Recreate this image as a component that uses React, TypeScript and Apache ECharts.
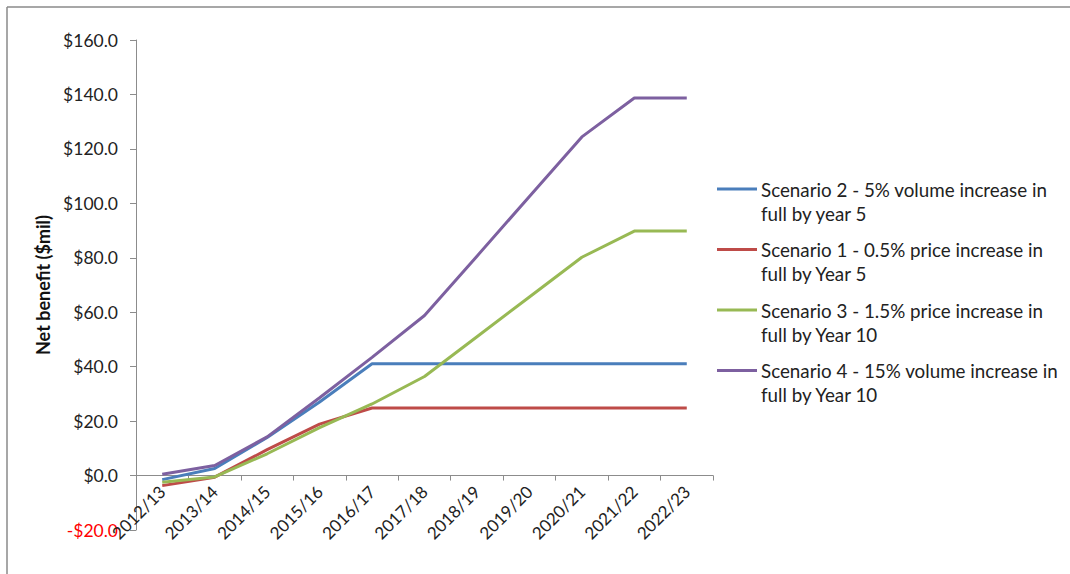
import React, { useEffect, useRef } from "react";
import * as echarts from "echarts";

// Financial years on the category axis
const years = [
  "2012/13", "2013/14", "2014/15", "2015/16", "2016/17", "2017/18",
  "2018/19", "2019/20", "2020/21", "2021/22", "2022/23",
];

// Net benefit per scenario, $ million
const scenario2 = [-1.5, 2.6, 14.0, 27.0, 41.1, 41.1, 41.1, 41.1, 41.1, 41.1, 41.1];
const scenario1 = [-3.7, -0.6, 9.5, 18.9, 24.8, 24.8, 24.8, 24.8, 24.8, 24.8, 24.8];
const scenario3 = [-2.5, -0.5, 8.0, 17.6, 26.3, 36.4, 51.0, 65.6, 80.2, 89.8, 89.8];
const scenario4 = [0.5, 3.7, 14.2, 28.6, 43.4, 58.8, 80.6, 102.5, 124.4, 138.7, 138.7];

// Legend captions, wrapped onto two lines
const names2 = ["Scenario 2 - 5% volume increase in", "full by year 5"];
const names1 = ["Scenario 1 - 0.5% price increase in", "full by Year 5"];
const names3 = ["Scenario 3 - 1.5% price increase in", "full by Year 10"];
const names4 = ["Scenario 4 - 15% volume increase in", "full by Year 10"];

// Y-axis range
const yMin = -20;
const yMax = 160;
const yStep = 20;

const FONT = "Lato, 'Noto Sans', sans-serif";

const GRID_TOP = 40;
const GRID_HEIGHT = 490;

export default function App() {
  const ref = useRef<HTMLDivElement>(null);

  useEffect(() => {
    if (!ref.current) return;
    const chart = echarts.init(ref.current, undefined, { renderer: "svg" });

    const seriesDefs = [
      { lines: names2, data: scenario2, color: "#4A7EBB" },
      { lines: names1, data: scenario1, color: "#BE4B48" },
      { lines: names3, data: scenario3, color: "#98B954" },
      { lines: names4, data: scenario4, color: "#7D60A0" },
    ];

    const legendLeft = 717;
    const legendTop = 189;
    const legendStep = 60.5;

    const legendGraphics: any[] = [];
    seriesDefs.forEach((s, i) => {
      const y = legendTop + i * legendStep;
      legendGraphics.push({
        type: "line",
        shape: { x1: legendLeft, y1: y, x2: legendLeft + 40, y2: y },
        style: { stroke: s.color, lineWidth: 3 },
      });
      legendGraphics.push({
        type: "text",
        x: legendLeft + 44,
        y: y - 12,
        style: {
          text: s.lines.join("\n"),
          fontFamily: FONT,
          fontSize: 18.8,
          lineHeight: 24,
          fill: "#222",
          verticalAlign: "top",
          align: "left",
        },
      });
    });

    // Chart frame
    const frame = [
      {
        type: "line",
        shape: { x1: 7, y1: 7, x2: 1070, y2: 7 },
        style: { stroke: "#8a8a8a", lineWidth: 1.5 },
      },
      {
        type: "line",
        shape: { x1: 7, y1: 7, x2: 7, y2: 574 },
        style: { stroke: "#8a8a8a", lineWidth: 1.5 },
      },
    ];

    // Distance from the grid bottom (at yMin) up to the zero line
    const zeroOffset = (GRID_HEIGHT * (0 - yMin)) / (yMax - yMin);

    chart.setOption({
      animation: false,
      backgroundColor: "#ffffff",
      grid: {
        left: 136,
        top: GRID_TOP,
        width: 577,
        height: GRID_HEIGHT,
        containLabel: false,
        outerBoundsMode: "none",
      },
      xAxis: [
        {
          type: "category",
          data: years,
          boundaryGap: true,
          axisLine: { onZero: true, lineStyle: { color: "#8c8c8c", width: 1 } },
          axisTick: { show: true, interval: 0, length: 5, lineStyle: { color: "#8c8c8c" } },
          axisLabel: { show: false },
          splitLine: { show: false },
        },
        {
          // Category labels sit just under the zero line
          type: "category",
          data: years,
          boundaryGap: true,
          position: "bottom",
          offset: -zeroOffset,
          axisLine: { show: false, onZero: false },
          axisTick: { show: false },
          axisLabel: {
            interval: 0,
            rotate: 45,
            margin: 13,
            fontFamily: FONT,
            fontSize: 17,
            color: "#222",
          },
          splitLine: { show: false },
        },
      ],
      yAxis: {
        type: "value",
        min: yMin,
        max: yMax,
        interval: yStep,
        name: "Net benefit ($mil)",
        nameLocation: "middle",
        nameGap: 84,
        nameTextStyle: {
          fontFamily: FONT,
          fontSize: 18,
          fontWeight: "bold",
          color: "#111",
        },
        axisLine: { show: true, lineStyle: { color: "#8c8c8c", width: 1 } },
        axisTick: { show: true, length: 6, lineStyle: { color: "#8c8c8c" } },
        splitLine: { show: false },
        axisLabel: {
          margin: 18,
          fontFamily: FONT,
          fontSize: 17.5,
          color: "#222",
          formatter: (v: number) =>
            v < 0 ? `{neg|-$${Math.abs(v).toFixed(1)}}` : `$${v.toFixed(1)}`,
          rich: {
            neg: { color: "#ff0000", fontFamily: FONT, fontSize: 17.5 },
          },
        },
      },
      series: seriesDefs.map((s) => ({
        name: s.lines.join(" "),
        type: "line",
        xAxisIndex: 0,
        data: s.data,
        symbol: "none",
        lineStyle: { color: s.color, width: 3 },
        itemStyle: { color: s.color },
      })),
      graphic: [...frame, ...legendGraphics],
    });

    return () => chart.dispose();
  }, []);

  return (
    <div
      ref={ref}
      style={{ position: "fixed", left: 0, top: 0, width: 1070, height: 574, background: "#fff" }}
    />
  );
}
